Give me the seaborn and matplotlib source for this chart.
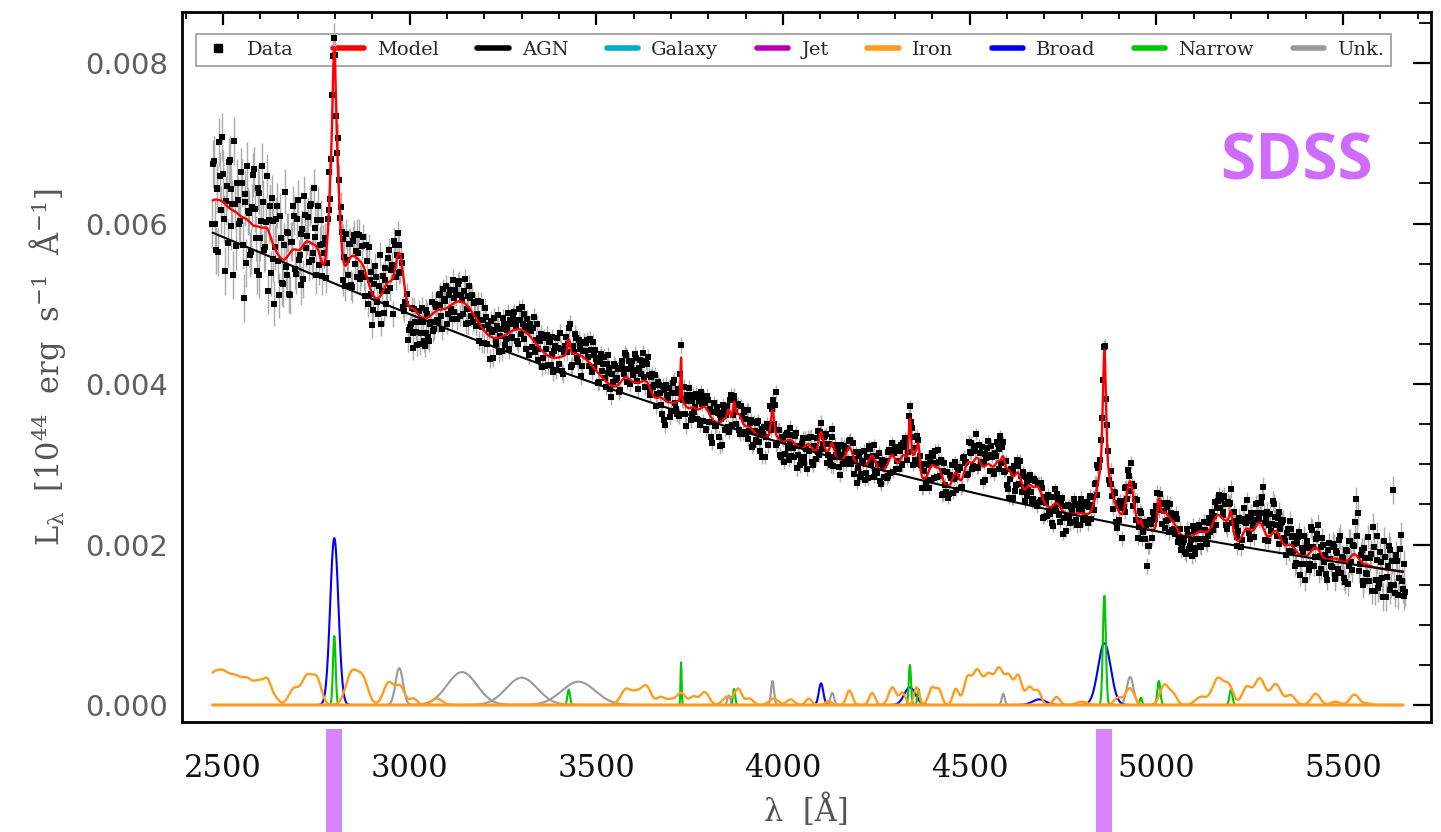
import numpy as np
import pandas as pd
import matplotlib
matplotlib.use("Agg")
import matplotlib.pyplot as plt
import matplotlib.transforms as mtransforms
from matplotlib.patches import Rectangle
from matplotlib.lines import Line2D
import seaborn as sns

# ---------------- values ----------------
# AGN continuum: log-curved power law
cont_ref_wl = 4000.0
cont_ref_flux = 0.003262
cont_slope = -1.643
cont_curv = -0.866

# broad lines (blue): centre [A], peak, sigma [A]
broad_center = [2798, 4102, 4340, 4686, 4861]
broad_height = [0.00208, 0.00027, 0.00022, 0.00007, 0.00077]
broad_sigma = [11, 6, 15, 18, 17]

# narrow lines (green)
narrow_center = [2798, 3426, 3727, 3869, 4340, 4363, 4861, 4959, 5007, 5200]
narrow_height = [0.00086, 0.00019, 0.00053, 0.00020, 0.00050, 0.00020, 0.00136, 0.00009, 0.00030, 0.00019]
narrow_sigma = [3.5, 3.5, 1.5, 3.0, 3.0, 3.0, 4.0, 3.0, 4.0, 4.0]

# unknown lines (grey)
unk_center = [2972, 3140, 3300, 3452, 3855, 3972, 4132, 4590, 4930]
unk_height = [0.00046, 0.00041, 0.00034, 0.00029, 0.00012, 0.00030, 0.00015, 0.00014, 0.00035]
unk_sigma = [10, 40, 42, 45, 4, 4, 5, 4, 9]

# iron template features (orange): centre, height [1e-5], sigma
iron_center = [2470, 2500, 2532, 2565, 2598, 2620, 2640, 2690, 2725, 2752,
               2845, 2875, 2944, 2975, 3010, 3073,
               3579, 3610, 3635, 3673, 3700, 3727, 3760, 3790, 3850, 3880,
               3910, 3975, 4020, 4069, 4122, 4178, 4239, 4293, 4320, 4358,
               4399, 4418, 4463, 4494, 4520, 4550, 4579, 4605, 4630, 4660,
               4683, 4733, 4800, 4897, 4929, 5022, 5046, 5120, 5165, 5195,
               5242, 5277, 5320, 5360, 5427, 5480, 5531, 5565]
iron_height_1e5 = [33, 34, 30, 29, 26, 24, 8, 20, 35, 30,
                   40, 30, 28, 22, 8, 8,
                   19, 15, 21, 10, 6, 15, 10, 16, 10, 20,
                   8, 8, 7, 8, 5, 18, 15, 22, 15, 22,
                   21, 18, 20, 32, 42, 36, 44, 33, 36, 22,
                   17, 10, 4, 9, 21, 25, 12, 10, 33, 22,
                   22, 33, 26, 12, 14, 4, 13, 2]
iron_sigma = [16, 16, 16, 16, 14, 10, 10, 14, 14, 12,
              16, 14, 14, 12, 10, 14,
              14, 14, 12, 12, 10, 12, 10, 12, 12, 10,
              10, 12, 10, 8, 8, 8, 8, 10, 8, 7,
              9, 8, 8, 10, 12, 12, 12, 10, 10, 10,
              9, 9, 15, 10, 12, 12, 10, 15, 15, 12,
              12, 14, 14, 12, 12, 12, 12, 10]

# observed spectrum: offsets from the model [1e-5]
# sample set A at 2470 + 5k A, sample set B at 2472.5 + 5k A
data_start = 2470
data_step = 5
data_offset_a_1e5 = [
    -28, 49, -63, 14, 73, -11, 35, -84, 25, 56, -21, 7, 87, -42, 17, -7, 42, -100, 31, 67,
    11, -35, 63, 21, -56, 42, -14, 77, -28, 7, -77, 35, 53, -17, 3, 59, -49, 25, -31, 84,
    -21, 28, -53, 11, 42, -31, 63, -7, 17, -42, 35, 7, -25, 49, -11, 21, -35, 56, 14, -17,
    15, -26, 20, 32, -13, 23, 6, -20, 13, 28, -32, 10, 39, -16, 18, -39, 26, 8, -23, 32,
    -13, 36, -32, 20, 45, -6, -39, 16, 26, -20, 52, 3, -29, 23, -10, 39, 13, -45, 32, 6,
    10, -20, 5, -35, -10, -45, -25, 0, -30, -15, -40, 5, -20, -5, -35, 10, -25, -10, 15, -20,
    5, -15, 20, -8, 25, 10, -20, 15, -5, 30, -12, 8, 22, -18, 2, 15, -25, 12, 28, -6,
    -10, 18, 8, -22, 30, 2, -15, 20, 12, -28, 6, 25, -5, 15, -18, 10, 22, -12, 5, -20,
    15, -8, 22, 5, -18, 12, 28, -10, 3, 18, -25, 8, 15, -12, 25, -3, 10, -20, 18, 6,
    -12, 20, 4, -18, 15, 25, -8, 10, -22, 12, 18, -5, 28, -15, 2, 20, -10, 14, -25, 8,
    10, 25, -5, 18, 30, 2, 15, -12, 22, 8, 28, -8, 12, 20, -15, 5, 25, 10, -10, 18,
    20, 5, 28, 12, -5, 25, 15, 30, 2, 18, 10, 35, -8, 22, 12, 0, 25, 15, -10, 20,
    5, -20, 12, -30, 8, 18, -10, 25, 0, -15, 15, 10, -5, 20, -25, 8, 12, -8, 15, 2,
    -12, 10, 20, -18, 5, -25, 15, 8, -30, 22, -5, 12, -30, 3, 18, -15, 10, -28, 25, -3,
    8, -15, 12, -22, 5, 15, -10, 20, -5, 10, -18, 2, 14, -8, 6, -25, 12, 0, -12, 30,
    5, -10, 50, -8, 12, -20, 2, -15, 10, -25, -5, 8, -18, 15, -10, -22, 5, -12, 10, -30,
    -8, 12, -20, 5, 15, -12, 2, -18, 10, 20, -5, -15, 8, -25, 12, 4, -10, 18, -6, 10,
    5, -15, 10, -8, -20, 12, -5, 15, -12, 3, -18, 8, 18, -10, 0, -22, 10, 5, -15, 12,
    -10, 8, -15, 12, 5, -20, 15, 2, -8, 18, -12, 10, 20, -5, 15, 25, 8, -10, 12, -15,
    10, -12, 18, -5, -20, 8, 15, -15, 5, 22, -8, -25, 12, 0, 18, -10, 6, -18, 14, -5,
    8, 15, -10, 20, 5, -15, 12, 25, -5, 10, -12, 18, 2, -20, 15, 8, 28, -8, 12, -10,
    10, 22, 15, -5, 18, -8, -20, -35, 5, -28, 12, -15, 8, 20, -10, 2, 15, -12, 6, -8,
    -15, 8, -25, 5, -10, 12, -18, 3, 15, -8, -20, 10, -5, 12, -12, 6, -28, 8, -5, 10,
    -12, 5, 18, -8, 10, -15, 4, 12, -5, 15, 8, -10, 12, 20, -6, 15, 10, 12, 8, -5,
    10, -8, 5, -15, 12, -25, -10, 8, 15, -5, 12, 20, -12, 5, 18, -8, -20, 2, 10, -5,
    -12, -45, -20, 8, 12, 15, 20, -5, 10, -15, 2, -10, 15, -18, 8, 5, -12, 12, -8, -20,
    -15, -5, -22, 2, -12, -25, 5, -18, -8, 8, -20, -10, 3, -15, 10, -5, 15, 5, -10, 18,
    10, 25, 5, 20, -10, 15, 28, 2, 18, -8, 12, 22, -5, 30, 8, 15, -12, 20, 5, 10,
    15, 5, 25, 50, 10, 20, -5, 28, 12, 35, 8, 18, -10, 22, 30, 5, 15, -8, 20, 12,
    5, -15, 20, -25, 10, 25, -10, 15, -20, 30, 2, -12, 18, -28, 8, 22, -5, -18, 12, 0,
    -10, 15, -20, 8, 25, -15, 5, -25, 12, -8, 20, -18, 10, 70, 55, -5, 15, -22, 8, -12,
    -20, 15, 50, -30, 10, -25, 20, -12, 35, -35, 5, 25, -18, 100, -28, 12, -8, 45, -22, -30,
]
data_offset_b_1e5 = [
    45, -30, 15, -65, 30, 80, -20, 5, -45, 60, 25, -80, 10, 38, -12, 55, -35, 20, -55, 12,
    -40, 22, 70, -15, 48, -60, 8, 32, -25, 65, 14, -45, 28, -70, 40, -8, 52, -30, 18, -10,
    30, -50, 12, 55, -25, 38, -12, -45, 22, 60, -8, 30, 45, -20, 70, 10, 35, -15, 50, 25,
    30, -18, 10, -30, 25, 12, -20, 35, -8, 15, 28, -25, 5, 20, -35, 18, -10, 30, 8, -22,
    22, -12, 35, -30, 8, 25, -18, 40, -5, 15, -35, 20, 10, -25, 30, -8, 18, 42, -15, 28,
    -25, 5, -40, -15, 8, -30, -20, -50, 0, -25, -10, -35, 12, -28, -18, 5, -30, -8, -22, 10,
    -12, 18, 5, -25, 12, 28, -8, 20, -18, 6, 15, -22, 25, 8, -15, 30, -5, -20, 14, 22,
    15, -10, 25, 5, -20, 12, 30, -12, 8, 20, -25, 10, -8, 28, 2, -18, 15, -5, 25, 10,
    -8, 20, 12, -15, 25, -5, 8, 22, -20, 10, 15, -10, 30, 4, -18, 12, 20, -8, -15, 25,
    18, -10, 25, 8, -15, 12, 30, -18, 5, 22, -8, 15, -20, 10, 25, -5, 18, 8, -12, 20,
    20, 5, 30, -8, 15, 25, 12, -10, 28, 18, 2, 22, 35, -5, 15, 28, 8, 20, -8, 25,
    12, 30, -5, 22, 18, 8, 35, 15, -8, 28, 20, 5, 25, 32, -10, 18, 10, 28, 5, 15,
    -10, 15, -25, 20, 5, -18, 12, 28, -8, 10, -20, 18, 2, -12, 15, 25, -15, 8, -5, 18,
    15, -20, 5, 12, -28, 18, -10, -25, 10, -5, 20, -18, 8, -30, 12, 2, -20, 15, -10, 8,
    -5, 10, -20, 15, -12, 8, 20, -15, 5, -22, 12, -8, 18, -18, 10, 4, -25, 15, 8, -10,
    12, 25, -12, 10, -18, 5, -25, 8, -10, 15, -20, -8, 10, -28, 2, -15, 12, -20, -5, 8,
    10, -18, 5, -10, 20, -22, 12, -5, 15, -15, 8, -25, 18, -8, 2, 12, -20, 5, 15, -12,
    -12, 8, -18, 15, 2, -25, 10, -15, 5, 18, -10, -20, 12, -5, 15, -12, -8, 20, -18, 5,
    8, -15, 12, -20, 15, 5, -10, 20, 12, -8, 15, 22, -5, 18, 10, -12, 20, -15, 5, 10,
    -15, 10, -8, 22, 5, -18, 12, 20, -12, 8, 15, -20, 25, -8, -15, 12, 20, -5, -22, 10,
    15, -10, 22, 8, -15, 25, 12, -8, 18, 30, -12, 10, 22, 5, -18, 20, 12, 25, -5, 15,
    25, -10, 30, 12, -15, 8, -25, -10, -30, 5, -20, 15, -12, 5, 18, -15, 8, -5, 12, -20,
    10, -20, 5, -15, 15, -22, 8, -12, -5, 12, -25, 18, -10, 5, -18, 15, -8, -22, 10, -5,
    8, -10, 12, -15, 5, 18, -8, 10, 15, -12, 20, 5, -8, 15, 25, 10, 18, 8, 15, 12,
    -12, 15, -5, 10, -20, 8, 15, -30, 5, 18, -10, 8, 25, -15, 10, 22, -5, 12, -18, 8,
    5, -20, 12, -10, 22, 10, 25, -15, 5, 12, -20, 8, -5, 18, -12, -8, 15, -15, 5, -10,
    -8, -20, 10, -15, -5, 12, -25, -8, 5, -18, 2, 12, -12, -5, 15, 8, -10, 20, 10, 25,
    20, 8, 30, -5, 22, 12, -8, 25, 15, 5, 28, -12, 18, 10, 35, -5, 22, 12, -10, 28,
    25, 12, 35, 20, -8, 30, 15, 5, 40, 18, -5, 28, 12, 25, 8, -12, 20, 30, 10, -5,
    -20, 12, 28, -10, 5, -30, 18, 8, -15, 25, -22, 10, 30, -5, -18, 15, 5, -25, 20, -8,
    18, -25, 10, -12, 30, 5, -20, 15, -30, 22, -8, 12, 40, 25, -15, 8, -28, 20, -10, 35,
    10, -30, 25, -15, 40, -20, 8, -35, 15, -10, 30, -25, 12, -18, 20, -30, 28, -12, 10, -25,
]
# 1-sigma error per 100 A bin [1e-5]
data_err_1e5 = [30, 28, 24, 19, 16, 14, 13, 12, 11, 11, 10, 10, 10, 9, 9, 9,
                9, 8, 8, 8, 8, 8, 8, 9, 9, 10, 10, 11, 12, 13, 15, 17]

# highlighted wavelength windows below the axis
mark_center = [2798, 4860]
mark_width = 43

legend_labels = ["Data", "Model", "AGN", "Galaxy", "Jet", "Iron", "Broad", "Narrow", "Unk."]
colors = {"Model": "#ff0000", "AGN": "#000000", "Galaxy": "#00aec8", "Jet": "#b400b4",
          "Iron": "#ff9b1f", "Broad": "#0000ff", "Narrow": "#00c800", "Unk.": "#9a9a9a"}

# ---------------- model evaluation ----------------
def gauss(wl, c, h, s):
    return h * np.exp(-0.5 * ((wl - c) / s) ** 2)

def continuum(wl):
    x = np.log(wl / cont_ref_wl)
    return cont_ref_flux * np.exp(cont_slope * x + cont_curv * x ** 2)

def iron(wl):
    out = np.zeros_like(wl, dtype=float)
    for c, h, s in zip(iron_center, iron_height_1e5, iron_sigma):
        out += gauss(wl, c, h * 1e-5, s)
    return out

def lines(wl, cs, hs, ss):
    out = np.zeros_like(wl, dtype=float)
    for c, h, s in zip(cs, hs, ss):
        out += gauss(wl, c, h, s)
    return out

def model(wl):
    return (continuum(wl) + iron(wl) + lines(wl, broad_center, broad_height, broad_sigma)
            + lines(wl, narrow_center, narrow_height, narrow_sigma)
            + lines(wl, unk_center, unk_height, unk_sigma))

wl = np.arange(2472.0, 5662.0, 1.0)
df_main = pd.DataFrame({"wl": wl, "model": model(wl), "agn": continuum(wl),
                        "iron": iron(wl), "zero": np.zeros_like(wl)})

# each line component is drawn over its own profile window
rows = []
for kind, cs, hs, ss in [("Broad", broad_center, broad_height, broad_sigma),
                         ("Narrow", narrow_center, narrow_height, narrow_sigma),
                         ("Unk.", unk_center, unk_height, unk_sigma)]:
    for i, (c, h, s) in enumerate(zip(cs, hs, ss)):
        w = wl[np.abs(wl - c) <= 4 * s]
        rows.append(pd.DataFrame({"wl": w, "flux": gauss(w, c, h, s),
                                  "kind": kind, "line": f"{kind}{i}"}))
df_comp = pd.concat(rows, ignore_index=True)

wl_a = data_start + data_step * np.arange(len(data_offset_a_1e5))
wl_b = data_start + data_step / 2 + data_step * np.arange(len(data_offset_b_1e5))
data_wl = np.concatenate([wl_a, wl_b])
data_off = np.concatenate([data_offset_a_1e5, data_offset_b_1e5]) * 1e-5
data_flux = model(data_wl) + data_off
bin_idx = ((data_wl - data_start) // 100).astype(int)
data_err = np.array(data_err_1e5)[bin_idx] * 1e-5
df_data = pd.DataFrame({"wl": data_wl, "flux": data_flux, "err": data_err})

# ---------------- figure ----------------
sns.set_theme(style="white")
plt.rcParams["font.family"] = ["DejaVu Sans"]
plt.rcParams["mathtext.fontset"] = "dejavuserif"

fig = plt.figure(figsize=(14.41, 8.32), dpi=100)
ax = fig.add_axes([182 / 1441, 110 / 832, (1431 - 182) / 1441, 710 / 832])

ax.vlines(df_data["wl"], df_data["flux"] - df_data["err"], df_data["flux"] + df_data["err"],
          color="#ababab", lw=1.0, zorder=2)
sns.scatterplot(data=df_data, x="wl", y="flux", marker="s", s=14, color="black",
                linewidth=0, ax=ax, zorder=3, legend=False)

LW = 1.5
# zero-valued components (galaxy, jet): thin, underneath the iron baseline
ax.plot(df_main["wl"], df_main["zero"], color=colors["Galaxy"], lw=0.8, zorder=2.2, snap=False)
ax.plot(df_main["wl"], df_main["zero"], color=colors["Jet"], lw=0.8, zorder=2.3, snap=False)
for z, kind in [(2.4, "Unk."), (2.5, "Broad"), (2.6, "Narrow")]:
    n0 = len(ax.get_lines())
    sns.lineplot(data=df_comp[df_comp["kind"] == kind], x="wl", y="flux", units="line",
                 estimator=None, color=colors[kind], lw=LW, ax=ax)
    for ln in ax.get_lines()[n0:]:
        ln.set_zorder(z)
# iron curve, plus its zero baseline drawn explicitly in iron colour on top
n0 = len(ax.get_lines())
sns.lineplot(data=df_main, x="wl", y="iron", color=colors["Iron"], lw=1.7, ax=ax)
sns.lineplot(data=df_main, x="wl", y="zero", color=colors["Iron"], lw=2.2, ax=ax)
for ln in ax.get_lines()[n0:]:
    ln.set_zorder(3.5)
n0 = len(ax.get_lines())
sns.lineplot(data=df_main, x="wl", y="model", color=colors["Model"], lw=1.7, ax=ax)
sns.lineplot(data=df_main, x="wl", y="agn", color=colors["AGN"], lw=LW, ax=ax)
for ln in ax.get_lines()[n0:]:
    ln.set_zorder(4)

ax.set_xlim(2390, 5736)
ax.set_ylim(-0.000212, 0.008636)
ax.xaxis.set_major_locator(matplotlib.ticker.MultipleLocator(500))
ax.xaxis.set_minor_locator(matplotlib.ticker.MultipleLocator(100))
ax.yaxis.set_major_locator(matplotlib.ticker.MultipleLocator(0.002))
ax.yaxis.set_minor_locator(matplotlib.ticker.MultipleLocator(0.0005))
ax.yaxis.set_major_formatter(matplotlib.ticker.FormatStrFormatter("%.3f"))

ax.tick_params(axis="both", which="both", direction="in", top=True, right=True, color="black")
ax.tick_params(axis="y", which="major", length=13, width=1.6, pad=10, labelsize=21,
               labelcolor="#5e5e5e")
ax.tick_params(axis="y", which="minor", length=8.5, width=1.3)
ax.tick_params(axis="x", which="major", length=9.5, width=1.6, pad=22, labelsize=22,
               labelcolor="#111111")
ax.tick_params(axis="x", which="minor", length=5, width=1.3)
for lab in ax.get_xticklabels():
    lab.set_family("DejaVu Serif")
for sp in ax.spines.values():
    sp.set_linewidth(2.0)
    sp.set_color("black")

ax.set_xlabel("λ  [Å]", fontsize=22, color="#555555", family="DejaVu Serif", labelpad=8)
ax.set_ylabel(r"L$_{\mathrm{\lambda}}$  [10$^{44}$  erg  s$^{-1}$  Å$^{-1}$]", fontsize=22,
              color="#555555", family="DejaVu Serif", labelpad=12)

handles = [Line2D([], [], marker="s", ls="none", color="black", markersize=6)]
for lab in legend_labels[1:]:
    handles.append(Line2D([], [], color=colors[lab], lw=4))
leg = ax.legend(handles, legend_labels, loc="upper left", ncol=9,
                bbox_to_anchor=((196 - 182) / 1249, (722 - 34) / 710),
                borderaxespad=0, frameon=True, fancybox=False, edgecolor="#808080",
                handlelength=1.6, handletextpad=0.67, columnspacing=2.0, borderpad=0.35,
                prop={"family": "DejaVu Serif", "size": 14})
leg.get_frame().set_linewidth(1.2)
leg.set_zorder(1.5)

ax.text(0.892, 0.788, "SDSS", transform=ax.transAxes, ha="center", va="center",
        fontsize=46, fontweight="bold", family="Open Sans", color="#cf6bff")

trans = mtransforms.blended_transform_factory(ax.transData, ax.transAxes)
for c in mark_center:
    ax.add_patch(Rectangle((c - mark_width / 2, -0.0099), mark_width, -0.16,
                           transform=trans, clip_on=False, facecolor="#d684ff",
                           edgecolor="none", zorder=1))

fig.savefig("out.png", dpi=100)
